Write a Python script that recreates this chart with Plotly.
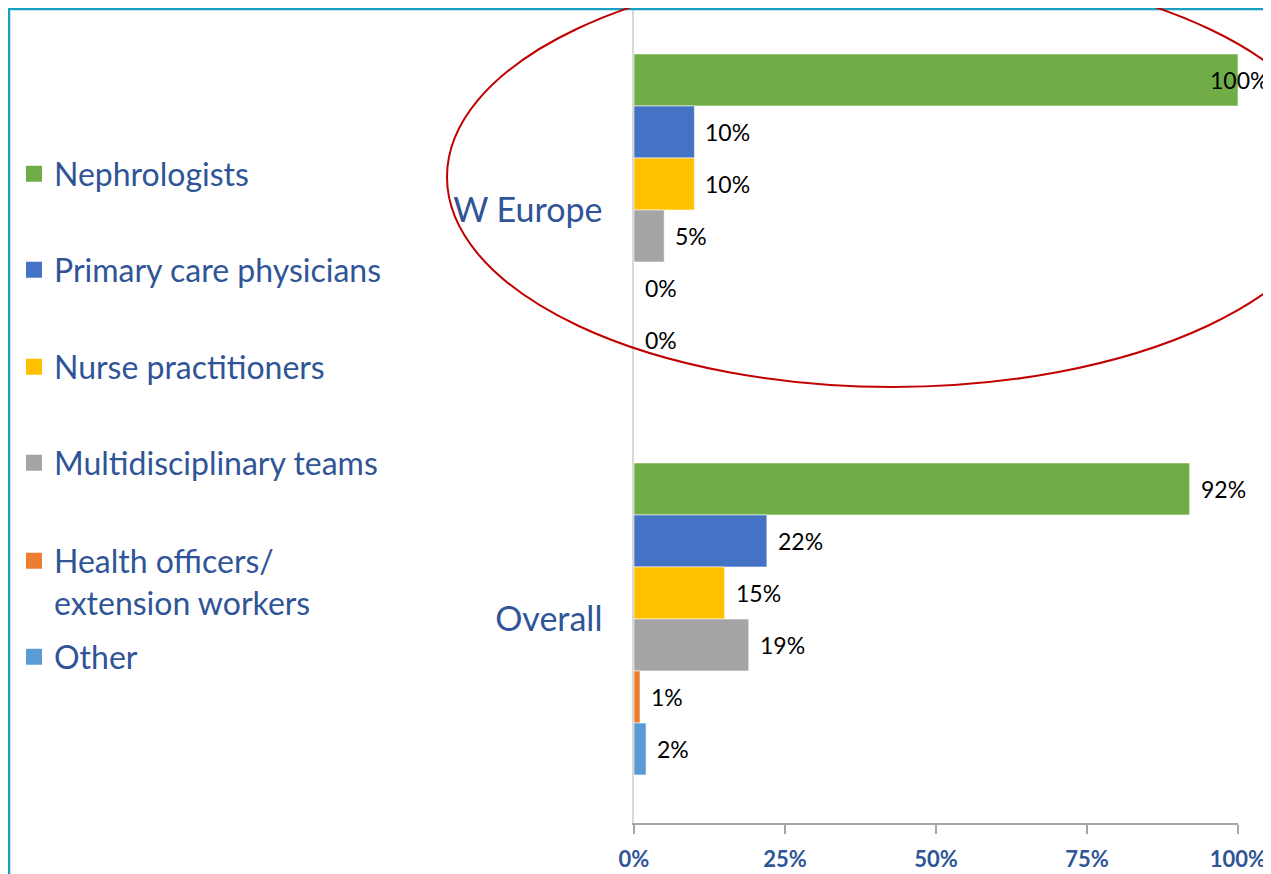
import plotly.graph_objects as go

categories = ["W Europe", "Overall"]
series_names = [
    "Nephrologists",
    "Primary care physicians",
    "Nurse practitioners",
    "Multidisciplinary teams",
    "Health officers/<br>extension workers",
    "Other",
]
nephrologists = [100, 92]
primary_care = [10, 22]
nurse_practitioners = [10, 15]
multidisciplinary = [5, 19]
health_officers = [0, 1]
other = [0, 2]
series_values = [nephrologists, primary_care, nurse_practitioners,
                 multidisciplinary, health_officers, other]
colors = ["#70AD47", "#4472C4", "#FFC000", "#A5A5A5", "#ED7D31", "#5B9BD5"]
x_ticks = [0, 25, 50, 75, 100]
x_tick_labels = ["0%", "25%", "50%", "75%", "100%"]

# page body has an 8px margin, so the figure is sized to fill the rest of the window
OFF = 8
W, H = 1271 - OFF, 874 - OFF
PLOT_L, PLOT_R, PLOT_T, PLOT_B = 634, 1238, OFF, 823   # screen pixels
M_L, M_R, M_T, M_B = PLOT_L - OFF, (W + OFF) - PLOT_R, PLOT_T - OFF, (H + OFF) - PLOT_B
PLOT_W = PLOT_R - PLOT_L
PLOT_H = PLOT_B - PLOT_T
BAND_PX = 409                 # pixels per category band
FIRST_CENTER = 210            # screen y of first category centre
Y_TOP = -(FIRST_CENTER - PLOT_T) / BAND_PX
Y_BOT = Y_TOP + PLOT_H / BAND_PX
BARGAP = 0.237
TEXT_BLUE = "#2F5597"
FONT = "Lato, 'Open Sans', sans-serif"


def px(p):
    return (p - PLOT_L) / PLOT_W


def py(p):
    return (PLOT_B - p) / PLOT_H


fig = go.Figure()
n = len(series_values)
legend_keys = ["legend" if i == 0 else f"legend{i + 1}" for i in range(n)]
for i, (name, vals, col) in enumerate(zip(series_names, series_values, colors)):
    fig.add_trace(go.Bar(
        y=categories, x=vals, name=name, orientation="h",
        marker=dict(color=col, line=dict(color="rgba(255,255,255,0.7)", width=0.8)),
        legendgroup=f"g{i}", showlegend=False,
        hoverinfo="skip",
    ))
# legend entries (square swatches) tied to the bar traces
for i, (name, col) in enumerate(zip(series_names, colors)):
    fig.add_trace(go.Scatter(
        x=[None], y=[None], mode="markers", name=name,
        marker=dict(symbol="square", size=16, color=col),
        legendgroup=f"g{i}", legend=legend_keys[i], showlegend=True,
        hoverinfo="skip",
    ))

# data labels placed through the axes
bar_w = (1 - BARGAP) / n
annotations = []
for i, vals in enumerate(series_values):
    for k, v in enumerate(vals):
        yv = k + (i - (n - 1) / 2) * bar_w
        if v >= 99:
            annotations.append(dict(x=v, y=yv, xref="x", yref="y", text=f"{v}%",
                                    showarrow=False, xanchor="right", xshift=32,
                                    font=dict(family=FONT, size=23, color="#000000")))
        else:
            annotations.append(dict(x=v, y=yv, xref="x", yref="y", text=f"{v}%",
                                    showarrow=False, xanchor="left", xshift=9,
                                    font=dict(family=FONT, size=23, color="#000000")))

# legends (one per series to reproduce the spacing)
legend_centers = [174, 270, 367, 463, 582, 657]
layout_legends = {}
for key, c in zip(legend_keys, legend_centers):
    layout_legends[key] = dict(
        x=px(14), y=py(c), xref="paper", yref="paper",
        xanchor="left", yanchor="middle", valign="top",
        itemsizing="trace",
        bgcolor="rgba(0,0,0,0)", borderwidth=0,
        font=dict(family=FONT, size=32, color=TEXT_BLUE),
    )

shapes = [
    # slide frame
    dict(type="rect", xref="paper", yref="paper",
         x0=px(9), x1=px(1300), y0=py(9), y1=py(900),
         line=dict(color="#19A0C0", width=2.5), fillcolor="rgba(0,0,0,0)", layer="above"),
    # highlight ellipse
    dict(type="circle", xref="paper", yref="paper",
         x0=px(447), x1=px(1339), y0=py(387), y1=py(-33),
         line=dict(color="#C00000", width=2), fillcolor="rgba(0,0,0,0)", layer="above"),
]

fig.update_layout(
    width=W, height=H,
    margin=dict(l=M_L, r=M_R, t=M_T, b=M_B, pad=0, autoexpand=False),
    paper_bgcolor="white", plot_bgcolor="white",
    barmode="group", bargap=BARGAP, bargroupgap=0,
    showlegend=True,
    annotations=annotations,
    shapes=shapes,
    **layout_legends,
)
fig.update_xaxes(
    range=[0, 100], tickvals=x_ticks, ticktext=x_tick_labels,
    showgrid=False, zeroline=False,
    showline=True, linecolor="#A6A6A6", linewidth=1.5,
    ticks="outside", ticklen=9, tickcolor="#A6A6A6", tickwidth=1.5,
    ticklabelstandoff=7,
    tickfont=dict(family=FONT, size=22, color=TEXT_BLUE, weight="bold"),
)
fig.update_yaxes(
    type="category", categoryorder="array", categoryarray=categories,
    range=[Y_BOT, Y_TOP],
    showgrid=False, zeroline=False,
    showline=True, linecolor="#D9D9D9", linewidth=1.5,
    ticks="", ticklabelstandoff=23,
    tickfont=dict(family=FONT, size=34, color=TEXT_BLUE),
)

fig.write_html("out.html")
